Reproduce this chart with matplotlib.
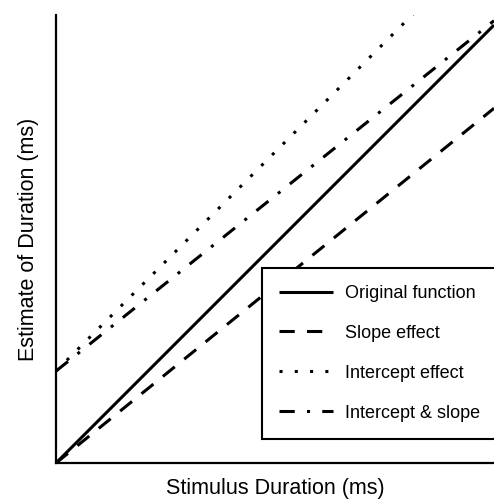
import numpy as np
import matplotlib.pyplot as plt

plt.rcParams['font.family'] = ['Liberation Sans', 'DejaVu Sans']

# stimulus duration (arbitrary units) and the four estimate functions
stim = [0, 100]
original = [0, 100]
slope_effect = [0, 81]
intercept_effect = [21, 121]
intercept_slope = [21, 101]

labels = ['Original function', 'Slope effect', 'Intercept effect', 'Intercept & slope']

fig = plt.figure(figsize=(4.94, 5.0), dpi=100)
ax = fig.add_axes([0.1134, 0.074, 0.8866, 0.896])

lw = 2.2
ax.plot(stim, original, color='black', lw=lw, solid_capstyle='butt', label=labels[0])
ax.plot(stim, slope_effect, color='black', lw=lw, dashes=(5, 4), label=labels[1])
ax.plot(stim, intercept_effect, color='black', lw=lw, dashes=(1, 4), label=labels[2])
ax.plot(stim, intercept_slope, color='black', lw=lw, dashes=(5, 4, 1, 4), label=labels[3])

ax.set_xlim(0, 100)
ax.set_ylim(0, 102.3)
ax.set_xticks([])
ax.set_yticks([])
for side in ['top', 'right']:
    ax.spines[side].set_visible(False)
for side in ['left', 'bottom']:
    ax.spines[side].set_linewidth(1.6)

ax.set_xlabel('Stimulus Duration (ms)', fontsize=15.5, labelpad=11)
ax.set_ylabel('Estimate of Duration (ms)', fontsize=15.5, labelpad=12)

# legend box runs slightly past the right edge of the figure, as in the original
leg = ax.legend(loc='lower right', bbox_to_anchor=(1.008, 0.054), borderaxespad=0,
                fontsize=13, frameon=True, fancybox=False, edgecolor='black',
                framealpha=1.0, handlelength=3.0, handletextpad=0.67,
                labelspacing=1.27, borderpad=0.95)
leg.get_frame().set_linewidth(1.5)

fig.savefig('out.png', dpi=100)
